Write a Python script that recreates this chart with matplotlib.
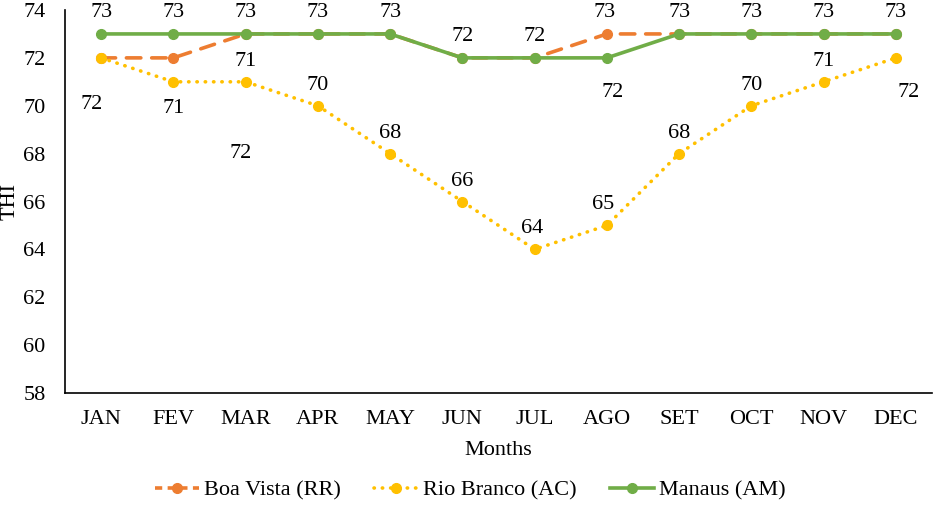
import matplotlib
matplotlib.use("Agg")
import matplotlib.pyplot as plt
from matplotlib.lines import Line2D

plt.rcParams['font.family'] = ['Liberation Serif', 'DejaVu Serif']

months = ["JAN", "FEV", "MAR", "APR", "MAY", "JUN", "JUL", "AGO", "SET", "OCT", "NOV", "DEC"]
boa_vista = [72, 72, 73, 73, 73, 72, 72, 73, 73, 73, 73, 73]
rio_branco = [72, 71, 71, 70, 68, 66, 64, 65, 68, 70, 71, 72]
manaus = [73, 73, 73, 73, 73, 72, 72, 72, 73, 73, 73, 73]
yticks = [58, 60, 62, 64, 66, 68, 70, 72, 74]

W, H = 935, 511
FS = 16
fig = plt.figure(figsize=(W / 100, H / 100), dpi=100)
ax = fig.add_axes([65 / W, 1 - 393 / H, (932 - 65) / W, (393 - 10) / H])

x = list(range(len(months)))
c_bv, c_rb, c_ma = '#ED7D31', '#FFC000', '#70AD47'

ax.plot(x, boa_vista, color=c_bv, lw=2.6, linestyle=(0, (4, 3)), dash_capstyle='round',
        marker='o', ms=7, zorder=2)
ax.plot(x, rio_branco, color=c_rb, lw=2.6, linestyle=(0, (0.1, 2.2)), dash_capstyle='round',
        marker='o', ms=7, zorder=3)
ax.plot(x, manaus, color=c_ma, lw=2.6, marker='o', ms=7, zorder=4)

series = {'bv': boa_vista, 'rb': rio_branco, 'ma': manaus}
# (series, index, dx px, dy px)  -- label placements
labels = [
    ('ma', 0, 0, 24), ('ma', 1, 0, 24), ('ma', 2, 0, 24), ('ma', 3, 0, 24), ('ma', 4, 0, 24),
    ('ma', 5, 0, 24), ('ma', 6, 0, 24), ('ma', 7, 6, -32),
    ('ma', 8, 0, 24), ('ma', 9, 0, 24), ('ma', 10, 0, 24), ('ma', 11, 0, 24),
    ('bv', 7, -2, 24),
    ('bv', 1, 67, -93),
    ('rb', 0, -10, -44), ('rb', 1, 0, -24), ('rb', 2, 0, 23), ('rb', 3, 0, 23),
    ('rb', 4, 0, 23), ('rb', 5, 0, 23), ('rb', 6, -3, 23), ('rb', 7, -4, 23),
    ('rb', 8, 0, 23), ('rb', 9, 0, 23), ('rb', 10, 0, 23), ('rb', 11, 13, -32),
]
for s, i, dx, dy in labels:
    v = series[s][i]
    ax.annotate(str(v), xy=(x[i], v), xytext=(dx, dy), textcoords='offset pixels',
                ha='center', va='center_baseline', fontsize=FS, color='black', zorder=5)

ax.set_xlim(-0.5, len(months) - 0.5)
ax.set_ylim(58, 74)
ax.set_yticks(yticks)
ax.set_xticks(x)
ax.set_xticklabels(months)
ax.tick_params(axis='both', length=0, labelsize=FS)
ax.tick_params(axis='y', pad=14)
ax.tick_params(axis='x', pad=12)
ax.spines['top'].set_visible(False)
ax.spines['right'].set_visible(False)
for sp in ('left', 'bottom'):
    ax.spines[sp].set_linewidth(1.2)
ax.set_xlabel('Months', fontsize=FS, labelpad=9)
ax.set_ylabel('THI', fontsize=FS)
ax.yaxis.set_label_coords(-0.052, 0.5)

handles = [
    Line2D([], [], color=c_bv, lw=2.6, linestyle=(0, (2, 1.5)), marker='o', ms=7),
    Line2D([], [], color=c_rb, lw=2.6, linestyle=(0, (0.1, 2.2)), dash_capstyle='round', marker='o', ms=7),
    Line2D([], [], color=c_ma, lw=2.6, marker='o', ms=7),
]
fig.legend(handles, ['Boa Vista (RR)', 'Rio Branco (AC)', 'Manaus (AM)'],
           loc='center', bbox_to_anchor=(470 / W, 1 - 490 / H), ncol=3, frameon=False,
           fontsize=FS, handlelength=2.0, handletextpad=0.2, columnspacing=1.5)

fig.savefig('out.png', dpi=100)
